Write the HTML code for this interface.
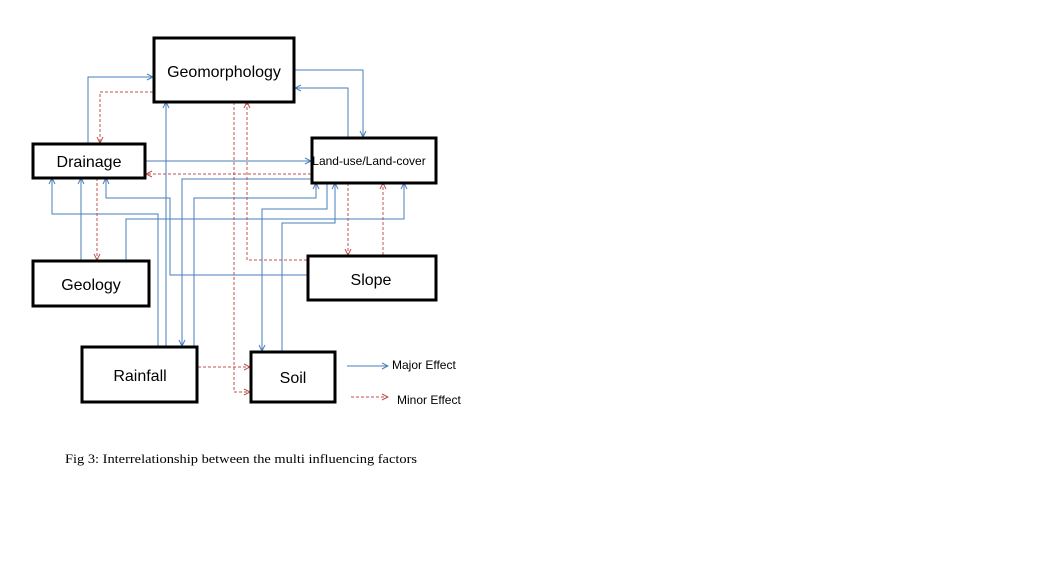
<!DOCTYPE html>
<html><head><meta charset="utf-8"><style>
html,body{margin:0;padding:0;background:#fff;width:1046px;height:587px;overflow:hidden}
svg{display:block}
text{font-family:"Liberation Sans",sans-serif;fill:#000}
</style></head><body>
<svg width="1046" height="587" viewBox="0 0 1046 587" xmlns="http://www.w3.org/2000/svg">
<defs>
<marker id="b" markerWidth="8" markerHeight="8" refX="7" refY="4" orient="auto" markerUnits="userSpaceOnUse"><path d="M1,1 L7,4 L1,7" fill="none" stroke="#4a7ebb" stroke-width="1"/></marker>
<marker id="r" markerWidth="8" markerHeight="8" refX="7" refY="4" orient="auto" markerUnits="userSpaceOnUse"><path d="M1,1 L7,4 L1,7" fill="none" stroke="#c0504d" stroke-width="1"/></marker>
</defs>
<g fill="none" stroke="#4a7ebb" stroke-width="1" marker-end="url(#b)">
<path d="M88,143 V77 H153"/>
<path d="M295,70 H363 V137"/>
<path d="M348,137 V88 H295"/>
<path d="M146,161 H311"/>
<path d="M166,346 V102"/>
<path d="M158,346 V214 H52 V178"/>
<path d="M81,260 V178"/>
<path d="M307,275 H170 V198 H106 V178"/>
<path d="M311,179 H182 V346"/>
<path d="M194,346 V198 H316 V183"/>
<path d="M327,183 V209 H262 V351"/>
<path d="M282,351 V223 H335 V183"/>
<path d="M126,260 V219 H404 V183"/>
<path d="M347,366 H388"/>
</g>
<g fill="none" stroke="#c0504d" stroke-width="1" stroke-dasharray="3,2" marker-end="url(#r)">
<path d="M153,92 H100 V143"/>
<path d="M311,174 H146"/>
<path d="M234,102 V392 H250"/>
<path d="M307,260 H247 V102"/>
<path d="M198,367 H250"/>
<path d="M97,178 V260"/>
<path d="M348,183 V255"/>
<path d="M383,255 V183"/>
<path d="M351,397 H388"/>
</g>
<g fill="#fff" stroke="#000" stroke-width="3">
<rect x="154" y="38" width="140" height="64"/>
<rect x="33" y="144" width="112" height="34"/>
<rect x="312" y="138" width="124" height="45"/>
<rect x="33" y="261" width="116" height="45"/>
<rect x="308" y="256" width="128" height="44"/>
<rect x="82" y="347" width="115" height="55"/>
<rect x="251" y="352" width="84" height="50"/>
</g>
<text x="224" y="77" font-size="16" text-anchor="middle">Geomorphology</text>
<text x="89" y="167" font-size="16" text-anchor="middle">Drainage</text>
<text x="369" y="165" font-size="12" text-anchor="middle">Land-use/Land-cover</text>
<text x="91" y="290" font-size="16" text-anchor="middle">Geology</text>
<text x="371" y="285" font-size="16" text-anchor="middle">Slope</text>
<text x="140" y="381" font-size="16" text-anchor="middle">Rainfall</text>
<text x="293" y="383" font-size="16" text-anchor="middle">Soil</text>
<text x="392" y="369" font-size="12">Major Effect</text>
<text x="397" y="404" font-size="12">Minor Effect</text>
<text x="65" y="463" font-size="13" textLength="352" lengthAdjust="spacingAndGlyphs" style="font-family:'Liberation Serif',serif">Fig 3: Interrelationship between the multi influencing factors</text>
</svg>
</body></html>
